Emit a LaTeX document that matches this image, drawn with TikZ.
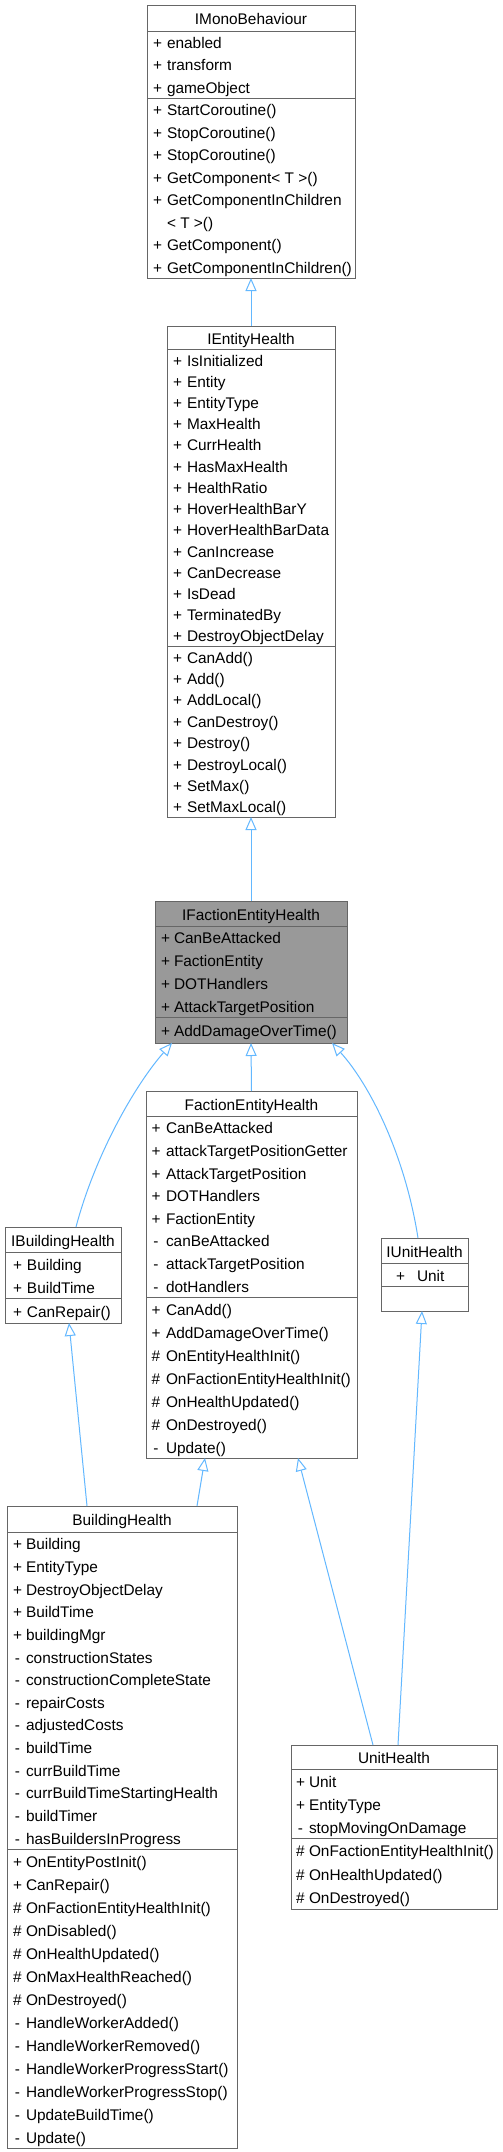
\documentclass[tikz,border=0pt]{standalone}
\usepackage{fontspec}
\setmainfont{Liberation Sans}
\usetikzlibrary{arrows.meta}
\definecolor{edgeblue}{HTML}{63B8FF}
\definecolor{boxline}{HTML}{666666}
\definecolor{focusfill}{HTML}{999999}
\tikzset{
  classbox/.style={draw=boxline, line width=1pt, fill=white, inner sep=0pt, outer sep=0pt, rectangle},
  sepline/.style={draw=boxline, line width=1pt},
  txt/.style={font=\fontsize{15.4}{18}\selectfont, inner sep=0pt, outer sep=0pt, text=black},
  inherit/.style={draw=edgeblue, line width=1pt, -{Triangle[open, length=13pt, width=11pt]}},
}
% #1 name, #2 left, #3 right, #4 top, #5 sep1, #6 sep2, #7 bottom, #8 style, #9 title
\newcommand\umlclass[9]{%
  \node[classbox,#8,anchor=north west,minimum width={#3pt-#2pt},minimum height={#7pt-#4pt}] (#1) at (#2,#4) {};
  \draw[sepline] (#2,#5) -- (#3,#5);
  \draw[sepline] (#2,#6) -- (#3,#6);
  \node[txt,anchor=base] (#1-title) at ({(#2+#3)/2},{(#4+#5)/2+6.5}) {#9};
}
% #1 prefix, #2 left, #3 symbol offset, #4 name offset, #5 y start, #6 row height, #7 list
\newcommand\umlrows[7]{%
  \foreach \s/\t [count=\i] in {#7}{%
    \node[txt,anchor=base] (#1-s\i) at ({#2+#3},{#5+(\i-0.5)*#6+6.5}) {\s};
    \node[txt,anchor=base west] (#1-t\i) at ({#2+#4},{#5+(\i-0.5)*#6+6.5}) {\t};
  }%
}
\begin{document}
\begin{tikzpicture}[x=1pt,y=-1pt]
\fill[white] (0,0) rectangle (503,2152);
\useasboundingbox (0,0) rectangle (503,2152);

% IMonoBehaviour
\umlclass{IMB}{147}{355}{5}{31}{98}{278}{}{IMonoBehaviour}
\umlrows{IMBa}{147}{10.5}{20}{31}{22.33}{+/enabled, +/transform, +/gameObject}
\umlrows{IMBm}{147}{10.5}{20}{98}{22.5}{+/StartCoroutine(), +/StopCoroutine(), +/StopCoroutine(), +/GetComponent< T >(), +/GetComponentInChildren, /< T >(), +/GetComponent(), +/GetComponentInChildren()}

% IEntityHealth
\umlclass{IEH}{167}{335}{326}{349}{646}{817}{}{IEntityHealth}
\umlrows{IEHa}{167}{10.5}{20}{349}{21.21}{+/IsInitialized, +/Entity, +/EntityType, +/MaxHealth, +/CurrHealth, +/HasMaxHealth, +/HealthRatio, +/HoverHealthBarY, +/HoverHealthBarData, +/CanIncrease, +/CanDecrease, +/IsDead, +/TerminatedBy, +/DestroyObjectDelay}
\umlrows{IEHm}{167}{10.5}{20}{646}{21.375}{+/CanAdd(), +/Add(), +/AddLocal(), +/CanDestroy(), +/Destroy(), +/DestroyLocal(), +/SetMax(), +/SetMaxLocal()}

% IFactionEntityHealth
\umlclass{IFEH}{155}{347}{901}{926}{1017}{1043}{fill=focusfill}{IFactionEntityHealth}
\umlrows{IFEHa}{155}{10.5}{19}{926}{22.75}{+/CanBeAttacked, +/FactionEntity, +/DOTHandlers, +/AttackTargetPosition}
\umlrows{IFEHm}{155}{10.5}{19}{1017}{26}{+/AddDamageOverTime()}

% FactionEntityHealth
\umlclass{FEH}{146}{357}{1091}{1116}{1297}{1458}{}{FactionEntityHealth}
\umlrows{FEHa}{146}{10}{20}{1116}{22.625}{+/CanBeAttacked, +/attackTargetPositionGetter, +/AttackTargetPosition, +/DOTHandlers, +/FactionEntity, -/canBeAttacked, -/attackTargetPosition, -/dotHandlers}
\umlrows{FEHm}{146}{10}{20}{1297}{23}{+/CanAdd(), +/AddDamageOverTime(), \#/OnEntityHealthInit(), \#/OnFactionEntityHealthInit(), \#/OnHealthUpdated(), \#/OnDestroyed(), -/Update()}

% IBuildingHealth
\umlclass{IBH}{5}{121}{1227}{1252}{1298}{1323}{}{IBuildingHealth}
\umlrows{IBHa}{5}{12.5}{22}{1252}{23}{+/Building, +/BuildTime}
\umlrows{IBHm}{5}{12.5}{22}{1298}{25}{+/CanRepair()}

% IUnitHealth
\umlclass{IUH}{381}{468}{1238}{1263}{1286}{1311}{}{IUnitHealth}
\umlrows{IUHa}{381}{19.5}{36}{1263}{23}{+/Unit}

% BuildingHealth
\umlclass{BH}{7}{237}{1506}{1532}{1849}{2148}{}{BuildingHealth}
\umlrows{BHa}{7}{10.5}{19}{1532}{22.64}{+/Building, +/EntityType, +/DestroyObjectDelay, +/BuildTime, +/buildingMgr, -/constructionStates, -/constructionCompleteState, -/repairCosts, -/adjustedCosts, -/buildTime, -/currBuildTime, -/currBuildTimeStartingHealth, -/buildTimer, -/hasBuildersInProgress}
\umlrows{BHm}{7}{10.5}{19}{1849}{23}{+/OnEntityPostInit(), +/CanRepair(), \#/OnFactionEntityHealthInit(), \#/OnDisabled(), \#/OnHealthUpdated(), \#/OnMaxHealthReached(), \#/OnDestroyed(), -/HandleWorkerAdded(), -/HandleWorkerRemoved(), -/HandleWorkerProgressStart(), -/HandleWorkerProgressStop(), -/UpdateBuildTime(), -/Update()}

% UnitHealth
\umlclass{UH}{291}{497}{1745}{1769}{1838}{1909}{}{UnitHealth}
\umlrows{UHa}{291}{9.5}{18}{1769}{23}{+/Unit, +/EntityType, -/stopMovingOnDamage}
\umlrows{UHm}{291}{9.5}{18}{1838}{23.67}{\#/OnFactionEntityHealthInit(), \#/OnHealthUpdated(), \#/OnDestroyed()}

% inheritance connectors
\draw[inherit] (IEH.north) -- (IMB.south);
\draw[inherit] (IFEH.north) -- (IEH.south);
\draw[inherit] (FEH.north) -- (IFEH.south);
\draw[inherit] ([xshift=13pt]IBH.north) .. controls +(19,-72) and +(-37,42) .. ([xshift=-79pt]IFEH.south);
\draw[inherit] ([xshift=-6.5pt]IUH.north) .. controls +(-13,-83) and +(38,42) .. ([xshift=81pt]IFEH.south);
\draw[inherit] ([xshift=-35pt]BH.north) -- ([xshift=6pt]IBH.south);
\draw[inherit] ([xshift=75pt]BH.north) -- ([xshift=-46.5pt]FEH.south);
\draw[inherit] ([xshift=-21pt]UH.north) -- ([xshift=46.5pt]FEH.south);
\draw[inherit] ([xshift=4pt]UH.north) -- ([xshift=-2.5pt]IUH.south);
\end{tikzpicture}
\end{document}
